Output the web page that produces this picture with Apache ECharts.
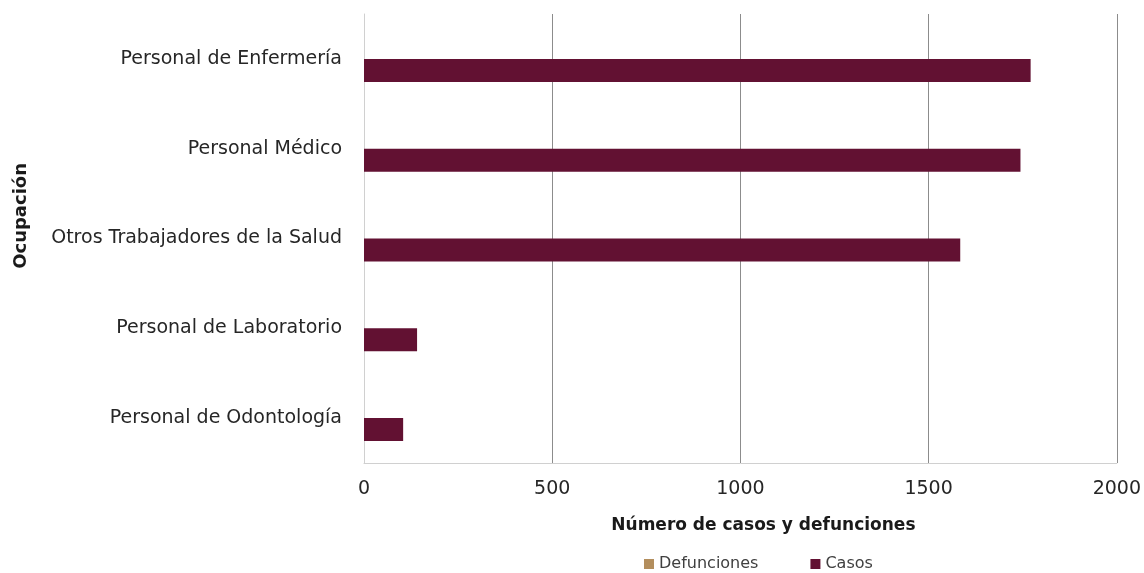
<!DOCTYPE html>
<html><head><meta charset="utf-8">
<script src="https://cdn.jsdelivr.net/npm/echarts@6/dist/echarts.min.js"></script>
<style>html,body{margin:0;padding:0;background:#fff}#c{width:1144px;height:573px}</style>
</head><body><div id="c"></div>
<script>
var categories = ["Personal de Enfermería","Personal Médico","Otros Trabajadores de la Salud","Personal de Laboratorio","Personal de Odontología"];
var defunciones = [0, 0, 0, 0, 0];
var casos = [1771, 1744, 1584, 141, 104];
var xTicks = {min: 0, max: 2000, interval: 500};
var FONT = "'DejaVu Sans', sans-serif";
var chart = echarts.init(document.getElementById('c'));
chart.setOption({
  animation: false,
  backgroundColor: '#fff',
  textStyle: {fontFamily: FONT},
  grid: {left: 364, right: 25, top: 14, bottom: 110, containLabel: false},
  legend: {
    top: 551, left: 639, itemWidth: 10, itemHeight: 10, itemGap: 52,
    icon: 'rect',
    textStyle: {fontFamily: FONT, fontSize: 16, color: '#404040'},
    data: ['Defunciones', 'Casos']
  },
  xAxis: {
    type: 'value', min: xTicks.min, max: xTicks.max, interval: xTicks.interval,
    name: 'Número de casos y defunciones', nameLocation: 'middle', nameGap: 54,
    nameTextStyle: {fontFamily: FONT, fontSize: 17, fontWeight: 'bold', color: '#1a1a1a', padding: [0, 0, 0, 46]},
    axisLine: {show: true, lineStyle: {color: '#d0d0d0'}},
    axisTick: {show: false},
    axisLabel: {fontFamily: FONT, fontSize: 19, color: '#262626', margin: 17, formatter: function (v) { return String(v); }},
    splitLine: {show: true, lineStyle: {color: '#8c8c8c', width: 1}}
  },
  yAxis: {
    type: 'category', data: categories, inverse: true,
    axisLine: {show: true, lineStyle: {color: '#d0d0d0'}},
    axisTick: {show: false},
    axisLabel: {fontFamily: FONT, fontSize: 19, color: '#262626', margin: 22, verticalAlign: 'middle', padding: [0, 0, 4, 0]}
  },
  graphic: [{
    type: 'text', left: 12, top: 163, rotation: Math.PI / 2,
    style: {text: 'Ocupación', fontFamily: FONT, fontSize: 18, fontWeight: 'bold', fill: '#1a1a1a'}
  }],
  series: [
    {name: 'Defunciones', type: 'bar', data: defunciones, itemStyle: {color: '#b38e5d'}, barWidth: 23, barGap: '0%'},
    {name: 'Casos', type: 'bar', data: casos, itemStyle: {color: '#621132'}, barWidth: 23, barGap: '0%'}
  ]
});
</script></body></html>
